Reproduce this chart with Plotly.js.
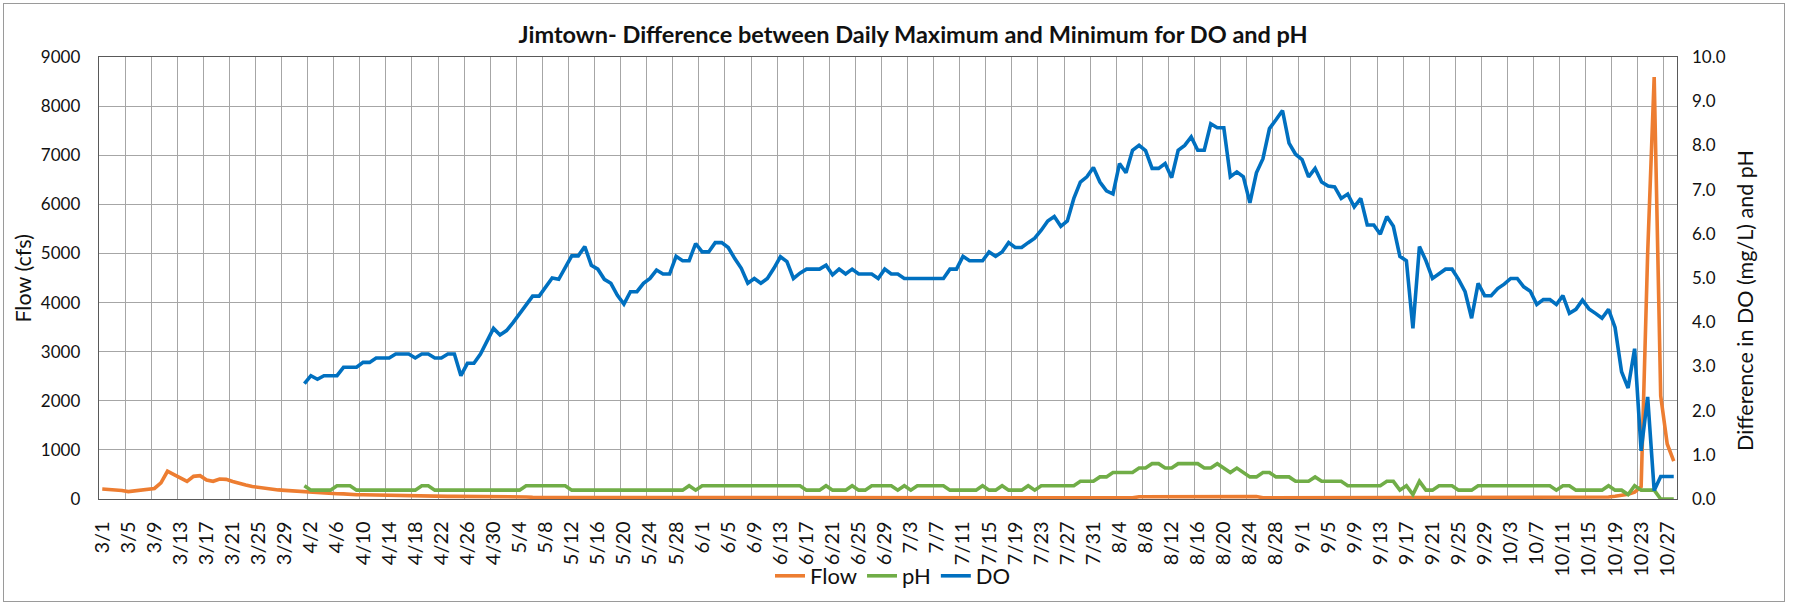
<!DOCTYPE html>
<html>
<head>
<meta charset="utf-8">
<script src="https://cdn.plot.ly/plotly-3.0.1.min.js"></script>
<style>
  html, body { margin: 0; padding: 0; background: #fff; }
  #wrap { position: relative; width: 1794px; height: 604px; }
  #chart { position: absolute; left: 0; top: 0; width: 1794px; height: 604px; }
  #frame { position: absolute; left: 3px; top: 3px; width: 1782px; height: 599px;
           border: 1px solid #9a9a9a; pointer-events: none; box-sizing: border-box; }
</style>
</head>
<body>
<div id="wrap"><div id="chart"></div><div id="frame"></div></div>
<script>
// ---------------- DATA ----------------
const startDate = '2019-03-01';          // first category (3/1)
const doStartOffset = 31;                // DO and pH begin on 4/1

// Flow (cfs), daily, 3/1 .. 10/28
const flow = [
  203,195,185,172,150,165,180,188,215,330,
  565,495,430,359,461,475,385,360,407,400,
  355,315,285,255,235,215,200,185,175,165,
  150,142,130,122,120,112,108,105,92,88,
  88,85,82,80,72,65,58,54,54,54,
  54,54,54,54,54,54,50,50,50,42,
  42,42,42,42,42,42,35,35,35,35,
  35,35,30,30,30,30,30,30,30,30,
  30,30,30,30,28,28,27,27,26,26,
  26,25,25,25,25,25,25,25,25,25,
  25,25,25,24,24,24,24,24,24,24,
  24,24,24,24,24,24,24,24,24,24,
  24,24,24,24,24,24,24,24,24,24,
  24,24,24,24,24,24,24,24,24,24,
  24,24,24,24,24,24,24,24,24,24,
  24,24,24,24,24,24,24,24,24,45,
  45,45,45,45,45,45,45,45,45,45,
  45,50,50,50,50,50,50,50,25,25,
  25,25,25,25,25,25,25,25,25,25,
  25,25,25,25,25,25,25,25,25,25,
  25,25,25,25,25,25,25,25,25,25,
  25,25,25,25,25,25,25,25,25,25,
  25,25,25,25,25,25,25,25,25,25,
  25,40,55,75,95,140,250,5000,8590,2100,
  1120,770
];

// Difference in pH, daily, 4/1 .. 10/28
const ph = [
  0.3,0.2,0.2,0.2,0.2,0.3,0.3,0.3,0.2,0.2,
  0.2,0.2,0.2,0.2,0.2,0.2,0.2,0.2,0.3,0.3,
  0.2,0.2,0.2,0.2,0.2,0.2,0.2,0.2,0.2,0.2,
  0.2,0.2,0.2,0.2,0.3,0.3,0.3,0.3,0.3,0.3,
  0.3,0.2,0.2,0.2,0.2,0.2,0.2,0.2,0.2,0.2,
  0.2,0.2,0.2,0.2,0.2,0.2,0.2,0.2,0.2,0.3,
  0.2,0.3,0.3,0.3,0.3,0.3,0.3,0.3,0.3,0.3,
  0.3,0.3,0.3,0.3,0.3,0.3,0.3,0.2,0.2,0.2,
  0.3,0.2,0.2,0.2,0.3,0.2,0.2,0.3,0.3,0.3,
  0.3,0.2,0.3,0.2,0.3,0.3,0.3,0.3,0.3,0.2,
  0.2,0.2,0.2,0.2,0.3,0.2,0.2,0.3,0.2,0.2,
  0.2,0.3,0.2,0.3,0.3,0.3,0.3,0.3,0.3,0.4,
  0.4,0.4,0.5,0.5,0.6,0.6,0.6,0.6,0.7,0.7,
  0.8,0.8,0.7,0.7,0.8,0.8,0.8,0.8,0.7,0.7,
  0.8,0.7,0.6,0.7,0.6,0.5,0.5,0.6,0.6,0.5,
  0.5,0.5,0.4,0.4,0.4,0.5,0.4,0.4,0.4,0.4,
  0.3,0.3,0.3,0.3,0.3,0.3,0.4,0.4,0.2,0.3,
  0.1,0.4,0.2,0.2,0.3,0.3,0.3,0.2,0.2,0.2,
  0.3,0.3,0.3,0.3,0.3,0.3,0.3,0.3,0.3,0.3,
  0.3,0.3,0.2,0.3,0.3,0.2,0.2,0.2,0.2,0.2,
  0.3,0.2,0.2,0.1,0.3,0.2,0.2,0.2,0.0,0.0,
  0.0
];

// Difference in DO (mg/L), daily, 4/1 .. 10/28
const dox = [
  2.61,2.79,2.71,2.79,2.79,2.79,2.98,2.98,2.98,3.09,
  3.09,3.19,3.19,3.19,3.28,3.28,3.28,3.19,3.28,3.28,
  3.19,3.19,3.28,3.28,2.79,3.07,3.07,3.28,3.56,3.86,
  3.71,3.81,3.99,4.20,4.39,4.59,4.59,4.78,5.00,4.97,
  5.24,5.50,5.50,5.71,5.29,5.20,4.97,4.88,4.61,4.41,
  4.69,4.69,4.88,4.99,5.18,5.09,5.09,5.49,5.39,5.39,
  5.78,5.59,5.59,5.80,5.80,5.69,5.44,5.22,4.88,4.99,
  4.88,4.99,5.22,5.48,5.37,4.99,5.11,5.20,5.20,5.20,
  5.29,5.07,5.20,5.09,5.20,5.09,5.09,5.09,4.99,5.20,
  5.09,5.09,4.99,4.99,4.99,4.99,4.99,4.99,4.99,5.20,
  5.20,5.49,5.39,5.39,5.39,5.59,5.49,5.59,5.80,5.69,
  5.69,5.80,5.90,6.08,6.29,6.39,6.17,6.29,6.80,7.17,
  7.29,7.50,7.17,6.97,6.90,7.59,7.38,7.89,8.00,7.88,
  7.48,7.48,7.59,7.27,7.89,8.00,8.19,7.89,7.89,8.49,
  8.40,8.40,7.29,7.40,7.29,6.70,7.38,7.70,8.38,8.58,
  8.79,8.05,7.80,7.68,7.29,7.48,7.17,7.08,7.06,6.80,
  6.90,6.61,6.80,6.20,6.20,5.99,6.39,6.17,5.49,5.39,
  3.86,5.71,5.39,4.99,5.09,5.20,5.20,4.97,4.69,4.09,
  4.88,4.60,4.60,4.76,4.86,4.99,4.99,4.80,4.70,4.40,
  4.51,4.51,4.40,4.60,4.20,4.29,4.50,4.30,4.20,4.09,
  4.29,3.88,2.88,2.51,3.40,1.09,2.31,0.19,0.51,0.51,
  0.51
];

const seriesNames = ['Flow', 'pH', 'DO'];
const seriesColors = ['#ED7D31', '#70AD47', '#0070C0'];
const titleText = 'Jimtown- Difference between Daily Maximum and Minimum for DO and pH';
const leftTitle = 'Flow (cfs)';
const rightTitle = 'Difference in DO (mg/L) and pH';

// ---------------- BUILD ----------------
const DAY = 864e5;
const t0 = Date.parse(startDate + 'T00:00:00Z');
const dates = flow.map((_, k) => new Date(t0 + k * DAY).toISOString().slice(0, 10));
const doDates = dates.slice(doStartOffset, doStartOffset + dox.length);
const fmt = ms => new Date(ms).toISOString().replace('T', ' ').slice(0, 16);
const xRange = [fmt(t0 - DAY / 2), fmt(t0 + (dates.length - 0.5) * DAY)];

const FONT = 'Lato, "Open Sans", sans-serif';
const TXT = '#111111';
const GRID = '#a6a6a6';
const AXL = '#595959';
const LW = 3.6;

const traces = [
  { x: dates, y: flow, name: seriesNames[0], type: 'scatter', mode: 'lines',
    line: { color: seriesColors[0], width: LW }, xaxis: 'x', yaxis: 'y' },
  { x: doDates, y: ph, name: seriesNames[1], type: 'scatter', mode: 'lines',
    line: { color: seriesColors[1], width: LW }, xaxis: 'x', yaxis: 'y2' },
  { x: doDates, y: dox, name: seriesNames[2], type: 'scatter', mode: 'lines',
    line: { color: seriesColors[2], width: LW }, xaxis: 'x', yaxis: 'y2' }
];

const layout = {
  width: 1794, height: 604,
  margin: { l: 99, r: 117, t: 57, b: 105, pad: 0, autoexpand: false },
  paper_bgcolor: 'rgba(0,0,0,0)', plot_bgcolor: '#ffffff',
  font: { family: FONT, color: TXT },
  showlegend: true,
  title: { text: '<b>' + titleText + '</b>', font: { family: FONT, size: 23.5, color: TXT },
           xref: 'container', yref: 'container', x: 0.509, xanchor: 'center',
           y: 1 - 35 / 604, yanchor: 'middle' },
  xaxis: {
    type: 'date', range: xRange, fixedrange: true, automargin: false,
    tick0: startDate, dtick: 4 * DAY, tickformat: '%-m/%-d', tickangle: -90,
    showgrid: false, zeroline: false,
    ticks: '', ticklabelstandoff: 13,
    tickfont: { family: FONT, size: 20, color: TXT },
    showline: true, mirror: true, linecolor: AXL, linewidth: 1.3,
    minor: { tick0: xRange[0], dtick: 4 * DAY, showgrid: true, gridcolor: GRID, gridwidth: 1, ticks: '' }
  },
  yaxis: {
    range: [0, 9000], dtick: 1000, fixedrange: true, automargin: false,
    showgrid: true, gridcolor: GRID, gridwidth: 1, zeroline: false,
    ticks: '', ticklabelstandoff: 14,
    tickfont: { family: FONT, size: 17, color: TXT },
    showline: true, mirror: true, linecolor: AXL, linewidth: 1.3
  },
  yaxis2: {
    overlaying: 'y', side: 'right', range: [0, 10], dtick: 1, tickformat: '.1f',
    fixedrange: true, automargin: false, showgrid: false, zeroline: false, showline: false,
    ticks: '', ticklabelstandoff: 14,
    tickfont: { family: FONT, size: 17, color: TXT }
  },
  legend: {
    orientation: 'h', xref: 'container', yref: 'container',
    x: 893 / 1794, xanchor: 'center', y: 1 - 576 / 604, yanchor: 'middle',
    font: { family: FONT, size: 22, color: TXT }, bgcolor: 'rgba(0,0,0,0)',
    traceorder: 'normal'
  },
  annotations: [
    { text: leftTitle, xref: 'paper', yref: 'paper', x: (22.6 - 99) / 1578, y: 0.5,
      xanchor: 'center', yanchor: 'middle', textangle: -90, showarrow: false,
      font: { family: FONT, size: 21.5, color: TXT } },
    { text: rightTitle, xref: 'paper', yref: 'paper', x: (1745 - 99) / 1578, y: (499.3 - 301) / 442.6,
      xanchor: 'center', yanchor: 'middle', textangle: -90, showarrow: false,
      font: { family: FONT, size: 21.5, color: TXT } }
  ],
  hovermode: false
};

Plotly.newPlot('chart', traces, layout, { staticPlot: true, displayModeBar: false });
</script>
</body>
</html>
